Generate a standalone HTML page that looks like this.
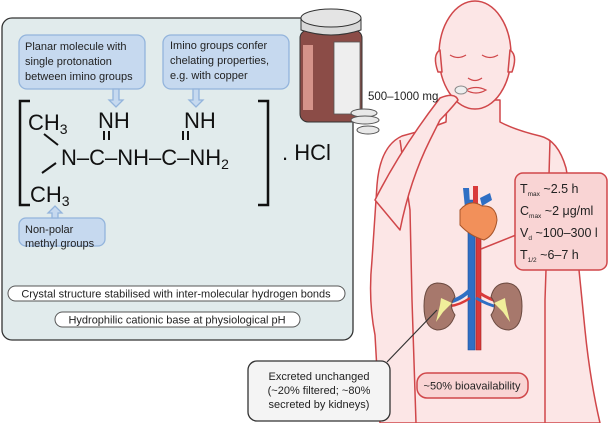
<!DOCTYPE html>
<html><head><meta charset="utf-8"><style>
html,body{margin:0;padding:0;background:#fff;}
svg{display:block;font-family:"Liberation Sans",sans-serif;}
</style></head><body>
<svg width="609" height="423" viewBox="0 0 609 423" xmlns="http://www.w3.org/2000/svg">
<!-- body -->
<g fill="#fce6e6" stroke="#d0474a" stroke-width="1.5" stroke-linejoin="round">
<path d="M447,100 L446,122 Q425,130 402,136 Q380,146 377,185 L372,260 Q368,300 375,335 L380,423 L600,423 Q590,380 585,330 L578,260 Q572,200 566,168 Q558,140 540,136 Q515,130 500,122 L500,100 Z"/>
<ellipse cx="475" cy="55" rx="36" ry="54"/>
<path d="M440,50 Q432,55 438,72 L442,72 Z"/>
<path d="M510,50 Q518,55 512,72 L508,72 Z"/>
<path d="M400,140 L410,210 L412,300 L416,423" fill="none"/>
<path d="M550,140 L548,210 L545,300 L545,423" fill="none"/>
<path d="M375,200 Q400,150 440,98 Q455,92 458,100 Q450,110 440,120 L430,140 Q410,180 400,230 Z"/>
</g>
<g fill="none" stroke="#d0474a" stroke-width="1.2">
<path d="M450,55 Q458,60 466,55"/><path d="M482,55 Q490,60 498,55"/>
<path d="M468,78 Q475,83 482,78"/>
<path d="M466,90 Q476,85 486,90 Q476,96 466,90"/>
</g>
<ellipse cx="461" cy="90" rx="6" ry="4" fill="#eee" stroke="#888"/>
<text x="368" y="100" font-size="11.5" fill="#222">500–1000 mg</text>
<!-- left panel -->
<rect x="2" y="18" width="351" height="322" rx="10" fill="#e1ebec" stroke="#333" stroke-width="1.3"/>
<!-- bottle -->
<rect x="300" y="30" width="62" height="92" rx="8" fill="#8b4c47" stroke="#333"/>
<rect x="303" y="45" width="10" height="65" fill="#d5938a"/>
<rect x="334" y="42" width="26" height="72" fill="#eee" stroke="#555" stroke-width="0.8"/>
<path d="M301,18 L301,30 Q331,40 361,30 L361,18" fill="#d8d8d8" stroke="#333"/>
<ellipse cx="331" cy="18" rx="30" ry="9" fill="#e4e4e4" stroke="#333"/>
<g fill="#e8e8e8" stroke="#555">
<ellipse cx="364" cy="113" rx="13" ry="4"/><ellipse cx="365" cy="120" rx="14" ry="4"/><ellipse cx="368" cy="130" rx="11" ry="4"/>
</g>
<g fill="#c6d9ef" stroke="#93b4dc" stroke-width="1.3">
<rect x="19" y="35" width="126" height="54" rx="8"/>
<rect x="163" y="35" width="126" height="54" rx="8"/>
<rect x="19" y="218" width="86" height="28" rx="7"/>
<path d="M113,89 L113,100 L109,100 L116,107 L123,100 L119,100 L119,89 Z"/>
<path d="M193,89 L193,100 L189,100 L196,107 L203,100 L199,100 L199,89 Z"/>
<path d="M52,218 L52,213 L48,213 L55,206 L62,213 L58,213 L58,218 Z"/>
</g>
<g font-size="11" fill="#222">
<text x="25" y="50">Planar molecule with</text><text x="25" y="65">single protonation</text><text x="25" y="80">between imino groups</text>
<text x="170" y="49">Imino groups confer</text><text x="170" y="64">chelating properties,</text><text x="170" y="79">e.g. with copper</text>
<text x="25" y="233">Non-polar</text><text x="25" y="247">methyl groups</text>
</g>
<g fill="none" stroke="#111" stroke-width="2.5">
<path d="M30,101 L20,101 L20,205 L30,205"/>
<path d="M258,101 L268,101 L268,205 L258,205"/>
</g>
<g font-size="22" fill="#111">
<text x="28" y="130">CH<tspan font-size="14" dy="4">3</tspan></text>
<text x="98" y="128">NH</text><text x="184" y="128">NH</text>
<text x="61" y="165">N–C–NH–C–NH<tspan font-size="14" dy="4">2</tspan></text>
<text x="30" y="202">CH<tspan font-size="14" dy="4">3</tspan></text>
<text x="282" y="160">. HCl</text>
</g>
<g stroke="#111" stroke-width="2">
<line x1="44" y1="134" x2="58" y2="145"/><line x1="42" y1="173" x2="56" y2="163"/>
<line x1="104" y1="131" x2="104" y2="140"/><line x1="109" y1="131" x2="109" y2="140"/>
<line x1="183" y1="131" x2="183" y2="140"/><line x1="188" y1="131" x2="188" y2="140"/>
</g>
<rect x="8" y="286" width="337" height="15" rx="7.5" fill="#fff" stroke="#555"/>
<text x="176" y="297.5" font-size="11" text-anchor="middle" fill="#222">Crystal structure stabilised with inter-molecular hydrogen bonds</text>
<rect x="55" y="312" width="245" height="15" rx="7.5" fill="#fff" stroke="#555"/>
<text x="177" y="323.5" font-size="11" text-anchor="middle" fill="#222">Hydrophilic cationic base at physiological pH</text>
<!-- vessels -->
<path d="M468,200 L468,350 L475,350 L475,200 Z" fill="#2f6fc4" stroke="#1e4f99" stroke-width="0.6"/>
<path d="M476,215 L476,350 L481,350 L481,215 Z" fill="#d93a3a" stroke="#a02020" stroke-width="0.6"/>
<path d="M470,290 Q460,300 448,302" stroke="#2f6fc4" stroke-width="4" fill="none"/>
<path d="M478,292 Q490,300 500,302" stroke="#d93a3a" stroke-width="3" fill="none"/>
<path d="M470,298 Q460,305 450,306" stroke="#d93a3a" stroke-width="2.5" fill="none"/>
<path d="M476,298 Q488,305 498,307" stroke="#2f6fc4" stroke-width="3" fill="none"/>
<!-- heart -->
<path d="M473,186 L478,186 L478,205 L473,205 Z" fill="#d93a3a"/>
<path d="M463,188 L469,188 L470,205 L465,208 Z" fill="#2f6fc4"/>
<path d="M480,198 L490,193 L492,200 L482,206 Z" fill="#2f6fc4"/>
<path d="M460,210 Q470,198 482,206 Q496,205 497,220 Q495,235 484,240 Q470,236 460,225 Z" fill="#f2905a" stroke="#a8552b"/>
<!-- kidneys -->
<g fill="#a7786c" stroke="#6b4a40">
<path d="M437,283 Q452,283 455,297 Q448,305 455,315 Q450,330 437,330 Q424,328 424,306 Q424,284 437,283 Z"/>
<path d="M507,283 Q494,283 491,297 Q498,305 491,315 Q496,330 509,330 Q522,328 522,306 Q522,284 507,283 Z"/>
</g>
<path d="M441,298 L452,303 L443,312 L436,322 L440,305 Z" fill="#f0ee9a"/>
<path d="M505,298 L494,303 L503,312 L510,322 L506,305 Z" fill="#f0ee9a"/>
<!-- stats -->
<line x1="481" y1="249" x2="516" y2="235" stroke="#d0474a" stroke-width="1.5"/>
<rect x="515" y="173" width="92" height="97" rx="8" fill="#f9d4d4" stroke="#d0474a" stroke-width="1.5"/>
<g font-size="12.5" fill="#222">
<text x="520" y="193">T<tspan font-size="6.5" dy="3">max</tspan><tspan dy="-3"> ~2.5 h</tspan></text>
<text x="520" y="215">C<tspan font-size="6.5" dy="3">max</tspan><tspan dy="-3"> ~2 μg/ml</tspan></text>
<text x="520" y="237">V<tspan font-size="6.5" dy="3">d</tspan><tspan dy="-3"> ~100–300 l</tspan></text>
<text x="520" y="259">T<tspan font-size="6.5" dy="3">1/2</tspan><tspan dy="-3"> ~6–7 h</tspan></text>
</g>
<rect x="417" y="373" width="111" height="25" rx="10" fill="#f9d4d4" stroke="#d0474a" stroke-width="1.5"/>
<text x="472" y="389.5" font-size="11" text-anchor="middle" fill="#222">~50% bioavailability</text>
<!-- excreted -->
<line x1="387" y1="362" x2="437" y2="310" stroke="#333" stroke-width="1.2"/>
<rect x="248" y="361" width="142" height="60" rx="9" fill="#f4f4f4" stroke="#333" stroke-width="1.3"/>
<g font-size="11" fill="#222" text-anchor="middle">
<text x="319" y="380">Excreted unchanged</text><text x="319" y="394">(~20% filtered; ~80%</text><text x="319" y="408">secreted by kidneys)</text>
</g>
</svg>
</body></html>
